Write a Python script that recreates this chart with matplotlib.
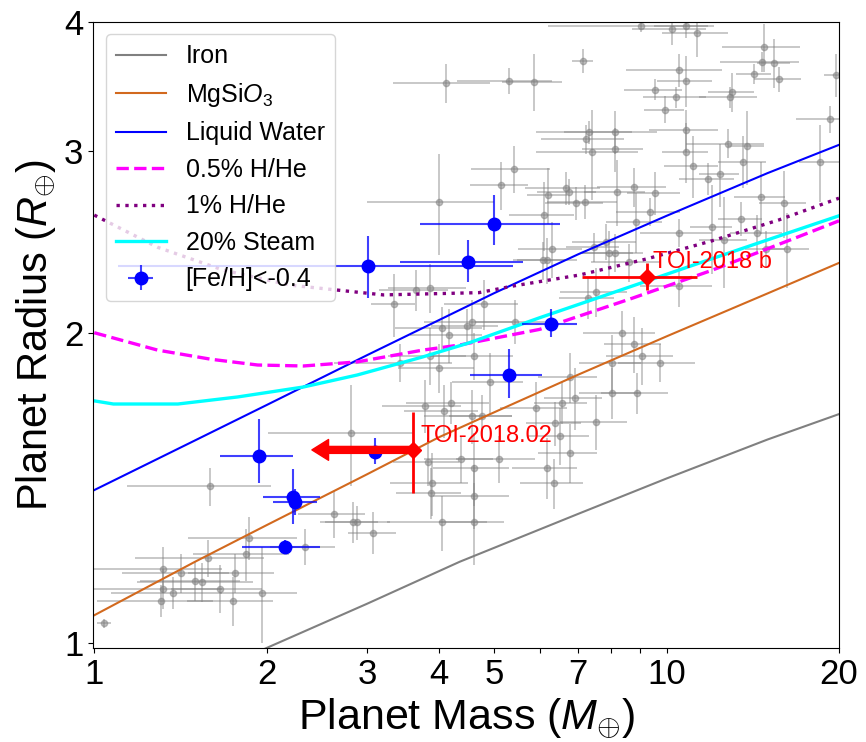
import matplotlib
matplotlib.use("Agg")
import matplotlib.pyplot as plt
from matplotlib.ticker import FixedLocator, FixedFormatter, NullLocator

plt.rcParams['font.family'] = ['Liberation Sans', 'DejaVu Sans']
plt.rcParams['mathtext.fontset'] = 'custom'
plt.rcParams['mathtext.rm'] = 'Liberation Sans'
plt.rcParams['mathtext.it'] = 'Liberation Sans:italic'

# composition models (mass in M_earth, radius in R_earth)
iron_m = [1.5, 2, 3, 4.35, 7, 10, 15, 20]
iron_r = [0.92, 0.99, 1.093, 1.20, 1.335, 1.445, 1.576, 1.668]
mgsio3_m = [1, 1.5, 2, 3, 4, 5, 7, 10, 15, 20]
mgsio3_r = [1.065, 1.200, 1.302, 1.459, 1.584, 1.675, 1.821, 1.984, 2.183, 2.337]
water_m = [1, 1.5, 2, 3, 5, 7, 10, 15, 20]
water_r = [1.408, 1.573, 1.702, 1.903, 2.185, 2.382, 2.596, 2.855, 3.041]
hhe05_m = [1, 1.29, 1.6, 1.93, 2.32, 2.88, 3.75, 4.35, 6, 8.73, 12, 16.6, 20]
hhe05_r = [2.0, 1.924, 1.885, 1.861, 1.857, 1.874, 1.924, 1.946, 2.015, 2.161, 2.299, 2.465, 2.567]
hhe1_m = [1, 1.29, 1.68, 2.2, 3.2, 4.7, 5.4, 7.05, 9.23, 12, 15.7, 20]
hhe1_r = [2.60, 2.42, 2.30, 2.224, 2.176, 2.187, 2.22, 2.275, 2.358, 2.455, 2.572, 2.70]
steam_m = [1, 1.08, 1.4, 1.78, 2.32, 2.88, 3.75, 4.5, 6, 8, 12, 15, 20]
steam_r = [1.718, 1.706, 1.706, 1.733, 1.772, 1.820, 1.895, 1.954, 2.068, 2.184, 2.359, 2.460, 2.596]

# known planets (background sample)
pl_m = [9.01, 10.2, 10.8, 11.3, 7.14, 4.12, 5.30, 5.86, 10.5, 10.8, 9.53, 10.4, 9.92,
        14.8, 14.7, 15.4, 14.2, 15.7, 13.0, 12.9, 19.8, 19.3, 18.5, 8.11, 7.31, 7.22,
        7.40, 8.11, 10.8, 10.8, 12.8, 13.8, 11.1, 13.6, 11.8, 12.4, 5.41, 5.13, 4.00,
        6.20, 6.66, 6.74, 6.94, 7.19, 8.18, 8.76, 9.53, 6.10, 9.34, 8.83, 10.5, 14.6,
        16.0, 13.5, 12.0, 12.6, 14.4, 16.2, 14.9, 6.30, 6.08, 6.18, 7.83, 7.92, 8.11,
        7.46, 8.58, 7.52, 7.28, 10.5, 3.34, 3.65, 3.86, 4.05, 4.16, 4.57, 4.79, 5.43,
        8.35, 8.76, 9.04, 9.72, 8.02, 4.48, 3.86, 4.00, 3.42, 4.60, 6.77, 6.91, 6.56,
        5.91, 8.02, 8.87, 4.91, 3.78, 4.20, 4.08, 4.57, 4.76, 7.52, 6.51, 6.77, 6.38,
        3.83, 4.37, 4.60, 5.09, 6.17, 6.35, 3.89, 3.87, 4.60, 4.05, 4.60, 2.81, 2.62,
        2.83, 2.88, 3.07, 2.33, 1.59, 1.86, 1.84, 1.58, 1.42, 1.32, 1.50, 1.54, 1.66,
        1.76, 1.32, 1.37, 1.31, 1.75, 1.96, 1.04]
pl_r = [3.96, 3.94, 3.96, 3.90, 3.67, 3.49, 3.51, 3.50, 3.59, 3.51, 3.44, 3.38, 3.29,
        3.78, 3.66, 3.65, 3.56, 3.52, 3.42, 3.38, 3.55, 3.22, 2.93, 3.13, 3.13, 3.08,
        2.99, 3.01, 3.14, 2.99, 3.05, 3.03, 2.90, 2.93, 2.82, 2.85, 2.88, 2.78, 2.68,
        2.72, 2.76, 2.74, 2.67, 2.68, 2.74, 2.77, 2.73, 2.60, 2.62, 2.56, 2.50, 2.71,
        2.67, 2.58, 2.53, 2.46, 2.50, 2.41, 2.41, 2.41, 2.35, 2.35, 2.45, 2.39, 2.39,
        2.42, 2.34, 2.19, 2.16, 2.22, 2.13, 2.20, 2.21, 2.02, 1.99, 2.05, 2.13, 2.05,
        2.00, 1.95, 1.90, 1.87, 1.87, 2.03, 1.90, 1.85, 1.87, 1.90, 1.81, 1.73, 1.71,
        1.69, 1.75, 1.75, 1.79, 1.70, 1.71, 1.68, 1.66, 1.66, 1.64, 1.59, 1.53, 1.635,
        1.50, 1.51, 1.48, 1.51, 1.48, 1.43, 1.43, 1.40, 1.39, 1.31, 1.31, 1.60, 1.335,
        1.31, 1.31, 1.28, 1.24, 1.42, 1.265, 1.22, 1.21, 1.17, 1.18, 1.15, 1.147, 1.13,
        1.17, 1.13, 1.12, 1.10, 1.10, 1.12, 1.046]
pl_dm = [2.8, 1.5, 1.3, 1.5, 0.3, 0.8, 1.0, 0.7, 2.0, 1.2, 1.1, 1.3, 0.8,
         2.3, 2.3, 1.0, 1.0, 1.5, 1.2, 1.5, 1.0, 2.5, 1.5, 1.5, 1.4, 1.2,
         1.5, 1.0, 1.5, 1.0, 2.0, 1.0, 1.2, 1.3, 1.3, 1.0, 0.85, 0.6, 1.0,
         0.5, 1.0, 0.8, 0.8, 1.0, 1.0, 1.2, 1.0, 0.8, 1.2, 1.0, 1.5, 1.5,
         1.5, 1.2, 1.0, 1.2, 1.5, 1.5, 1.2, 0.8, 0.6, 0.8, 1.0, 0.8, 1.0,
         0.8, 1.2, 1.0, 0.8, 1.5, 0.3, 0.5, 0.6, 0.7, 0.6, 0.8, 0.7, 0.8,
         1.2, 1.0, 1.2, 1.5, 1.0, 0.6, 0.6, 0.6, 0.8, 0.8, 0.8, 0.8, 0.7,
         0.8, 1.0, 1.2, 0.7, 0.6, 0.7, 0.6, 0.8, 0.6, 1.0, 0.8, 0.8, 0.7,
         0.5, 0.6, 0.7, 0.8, 0.8, 0.8, 0.6, 0.5, 0.7, 0.8, 0.6, 0.8, 0.35,
         0.3, 0.4, 0.3, 0.3, 0.45, 0.4, 0.35, 0.4, 0.3, 0.35, 0.3, 0.35, 0.3,
         0.3, 0.35, 0.3, 0.3, 0.3, 0.3, 0.03]
pl_dr = [0.05, 0.14, 0.10, 0.20, 0.10, 0.15, 0.10, 0.22, 0.13, 0.20, 0.08, 0.08, 0.10,
         0.20, 0.08, 0.20, 0.08, 0.10, 0.15, 0.08, 0.17, 0.10, 0.25, 0.15, 0.08, 0.10,
         0.30, 0.15, 0.15, 0.20, 0.10, 0.25, 0.20, 0.17, 0.10, 0.20, 0.15, 0.15, 0.30,
         0.17, 0.10, 0.08, 0.10, 0.10, 0.20, 0.12, 0.13, 0.20, 0.08, 0.17, 0.08, 0.22,
         0.20, 0.10, 0.25, 0.25, 0.10, 0.20, 0.10, 0.15, 0.10, 0.12, 0.10, 0.12, 0.10,
         0.08, 0.10, 0.12, 0.10, 0.10, 0.15, 0.10, 0.12, 0.10, 0.12, 0.10, 0.12, 0.10,
         0.10, 0.12, 0.12, 0.08, 0.12, 0.08, 0.12, 0.10, 0.08, 0.10, 0.10, 0.12, 0.08,
         0.10, 0.10, 0.08, 0.12, 0.10, 0.08, 0.10, 0.10, 0.08, 0.10, 0.10, 0.10, 0.08,
         0.08, 0.08, 0.12, 0.08, 0.10, 0.08, 0.10, 0.08, 0.10, 0.08, 0.12, 0.18, 0.07,
         0.06, 0.05, 0.06, 0.05, 0.06, 0.06, 0.07, 0.05, 0.05, 0.06, 0.05, 0.05, 0.06,
         0.05, 0.05, 0.04, 0.04, 0.06, 0.12, 0.01]

# metal-poor planets [Fe/H] < -0.4
fe_m = [4.99, 4.49, 3.01, 6.28, 5.30, 3.09, 1.94, 2.22, 2.24, 2.15]
fe_r = [2.55, 2.34, 2.32, 2.04, 1.82, 1.533, 1.52, 1.386, 1.371, 1.24]
fe_m_lo = [1.28, 1.07, 1.91, 0.70, 0.77, 0.20, 0.28, 0.25, 0.19, 0.34]
fe_m_hi = [1.52, 1.11, 2.38, 0.69, 0.75, 0.20, 0.28, 0.26, 0.21, 0.33]
fe_r_lo = [0.12, 0.10, 0.16, 0.06, 0.09, 0.04, 0.09, 0.08, 0.04, 0.02]
fe_r_hi = [0.17, 0.12, 0.16, 0.07, 0.11, 0.05, 0.13, 0.09, 0.04, 0.02]

# TOI-2018 system
toi_b_m, toi_b_r = 9.23, 2.265
toi_b_m_err = [[2.13], [2.07]]
toi_b_r_err = [[0.066], [0.071]]
toi_c_m, toi_c_r = 3.60, 1.54
toi_c_r_err = [[0.14], [0.135]]
toi_c_m_limit = 2.40

fig = plt.figure(figsize=(8.66, 7.42), dpi=100)
ax = fig.add_axes([0.1074, 0.1267, 0.8614, 0.8437])

ax.errorbar(pl_m, pl_r, xerr=pl_dm, yerr=pl_dr, fmt='o', color='gray', ms=4.5,
            elinewidth=1.2, alpha=0.5, zorder=1)

ax.plot(iron_m, iron_r, color='gray', lw=1.5, label='Iron', zorder=2)
ax.plot(mgsio3_m, mgsio3_r, color='chocolate', lw=1.5, label=r'MgSi$O_3$', zorder=2)
ax.plot(water_m, water_r, color='blue', lw=1.5, label='Liquid Water', zorder=2)
ax.plot(hhe05_m, hhe05_r, color='magenta', ls='--', lw=2.4, label='0.5% H/He', zorder=2)
ax.plot(hhe1_m, hhe1_r, color='purple', ls=':', lw=2.4, label='1% H/He', zorder=2)
ax.plot(steam_m, steam_r, color='cyan', lw=2.4, label='20% Steam', zorder=2)

ax.errorbar(fe_m, fe_r, xerr=[fe_m_lo, fe_m_hi], yerr=[fe_r_lo, fe_r_hi], fmt='o',
            color='blue', ecolor=(0, 0, 1, 0.75), ms=9, elinewidth=1.5,
            label='[Fe/H]<-0.4', zorder=3)

# TOI-2018 b
ax.errorbar([toi_b_m], [toi_b_r], xerr=toi_b_m_err, yerr=toi_b_r_err, fmt='D',
            color='red', ms=8, elinewidth=2, zorder=4)
ax.text(9.45, 2.31, 'TOI-2018 b', color='red', fontsize=17, va='baseline', ha='left')

# TOI-2018.02 (mass upper limit)
ax.annotate('', xy=(toi_c_m_limit, toi_c_r), xytext=(toi_c_m, toi_c_r),
            arrowprops=dict(facecolor='red', edgecolor='red', width=5,
                            headwidth=15, headlength=12, shrink=0), zorder=4)
ax.errorbar([toi_c_m], [toi_c_r], yerr=toi_c_r_err, fmt='D', color='red', ms=8,
            elinewidth=2, zorder=4)
ax.text(3.71, 1.568, 'TOI-2018.02', color='red', fontsize=17, va='baseline', ha='left')

ax.set_xscale('log')
ax.set_yscale('log')
ax.set_xlim(0.995, 20)
ax.set_ylim(0.99, 4)

ax.xaxis.set_major_locator(FixedLocator([1, 2, 3, 4, 5, 6, 7, 8, 9, 10, 20]))
ax.xaxis.set_major_formatter(FixedFormatter(['1', '2', '3', '4', '5', '', '7', '', '', '10', '20']))
ax.xaxis.set_minor_locator(NullLocator())
ax.yaxis.set_major_locator(FixedLocator([1, 2, 3, 4]))
ax.yaxis.set_major_formatter(FixedFormatter(['1', '2', '3', '4']))
ax.yaxis.set_minor_locator(NullLocator())
ax.tick_params(labelsize=25)

ax.set_xlabel(r'Planet Mass ($M_{\oplus}$)', fontsize=31)
ax.set_ylabel(r'Planet Radius ($R_{\oplus}$)', fontsize=30)

ax.legend(loc='upper left', fontsize=18, labelspacing=0.5)

fig.savefig('out.png', dpi=100)
